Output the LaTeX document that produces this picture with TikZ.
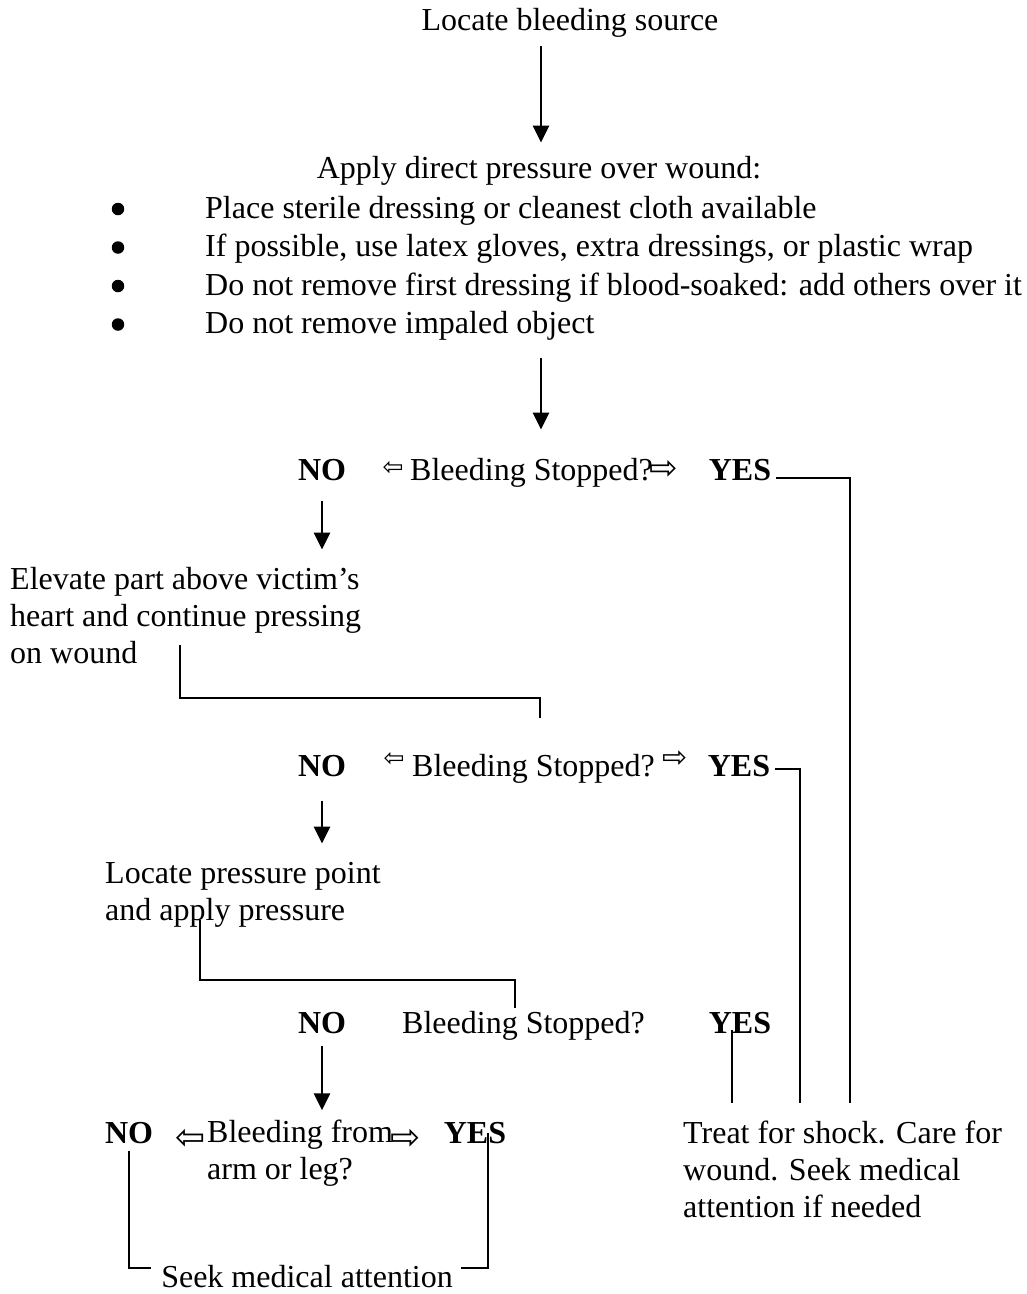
\documentclass[tikz,border=0pt]{standalone}
\usepackage{fontspec}
\setmainfont{Liberation Serif}
\newfontfamily\arrowfont{DejaVu Sans}
\usetikzlibrary{arrows.meta,calc}
\tikzset{every node/.style={font=\fontsize{32}{37}\selectfont,inner sep=0pt},line cap=round,line join=round}

\begin{document}
\begin{tikzpicture}[x=1pt,y=-1pt,
  txt/.style={anchor=base west,align=left},
  ans/.style={font=\bfseries\fontsize{32}{37}\selectfont,anchor=base},
  hollow/.style={font=\arrowfont\fontsize{#1}{#1}\selectfont},
  hollow/.default=28,
  flow/.style={line width=2.6pt,-{Triangle[length=17pt,width=16pt]}},
  link/.style={line width=1.8pt}]
  \path[use as bounding box] (0,0) rectangle (1027,1294);
  % first steps
  \node[anchor=base] (locate) at (570,30) {Locate bleeding source};
  \node[anchor=base] (apply) at (539,178) {Apply direct pressure over wound:};
  \foreach \t [count=\i] in {{Place sterile dressing or cleanest cloth available},
      {If possible, use latex gloves, extra dressings, or plastic wrap},
      {Do not remove first dressing if blood-soaked: add others over it},
      {Do not remove impaled object}}{
    \node[txt] (l\i) at (205,{218+(\i-1)*38.5}) {\t};
    \node[circle,fill,minimum size=12.5pt] (b\i) at (118,{209+(\i-1)*38.5}) {};
  }
  \draw[flow,shorten <=9pt,shorten >=13pt] (locate.south -| 541,0) -- (apply.north -| 541,0);
  % first check
  \node[ans] (no1) at (322,480) {NO};
  \node[hollow=25] (lt1) at (393,468) {⇦};
  \node[txt] (q1) at (410,480) {Bleeding Stopped?};
  \node[hollow=34] (rt1) at (664,470) {⇨};
  \node[ans] (yes1) at (740,480) {YES};
  \draw[flow,shorten <=17pt,shorten >=28pt] (l4.south -| 541,0) -- (q1.north -| 541,0);
  \node[txt] (elevate) at (10,663) {Elevate part above victim’s\\heart and continue pressing\\on wound};
  \draw[flow,shorten <=20pt,shorten >=17pt] (no1.south) -- (no1.south |- elevate.north);
  % second check
  \node[ans] (no2) at (322,776) {NO};
  \node[hollow=25] (lt2) at (394,759) {⇦};
  \node[txt] (q2) at (412,776) {Bleeding Stopped?};
  \node[hollow=30] (rt2) at (675,759) {⇨};
  \node[ans] (yes2) at (739,776) {YES};
  \coordinate (e1) at (180,645);
  \draw[link] (e1) |- ++(360,53) -- ++(0,20);
  \node[txt] (pressure) at (105,920) {Locate pressure point\\and apply pressure};
  \draw[flow,shorten <=24pt,shorten >=18pt] (no2.south) -- (no2.south |- pressure.north);
  % third check
  \node[ans] (no3) at (322,1033) {NO};
  \node[txt] (q3) at (402,1033) {Bleeding Stopped?};
  \node[ans] (yes3) at (740,1033) {YES};
  \coordinate (p1) at (200,920);
  \draw[link] (p1) |- ++(315,60) -- ++(0,28);
  % limb check
  \node[ans] (no4) at (129,1143) {NO};
  \node[hollow=36] (lt4) at (191,1139) {⇦};
  \node[txt] (q4) at (207,1179) {Bleeding from\\arm or leg?};
  \node[hollow=36] (rt4) at (406,1139) {⇨};
  \node[ans] (yes4) at (475,1143) {YES};
  \draw[flow,shorten <=12pt,shorten >=9pt] (no3.south) -- (no3.south |- q4.north);
  \node[anchor=base] (seek) at (307,1287) {Seek medical attention};
  \draw[link] ($(no4.south)+(0,7)$) |- ($(seek.west)+(-10,-8)$);
  \draw[link] ($(yes4.base)+(13,-10)$) |- ($(seek.east)+(8,-8)$);
  % treatment
  \node[txt] (treat) at (683,1217) {Treat for shock. Care for\\wound. Seek medical\\attention if needed};
  \coordinate (j1) at (850,1103);
  \coordinate (j2) at (800,1103);
  \coordinate (j3) at (732,1103);
  \draw[link] ($(yes1.base east)+(5,-2)$) -| (j1);
  \draw[link] ($(yes2.base east)+(5,-7)$) -| (j2);
  \draw[link] ($(j3 |- yes3.base)+(0,-3)$) -- (j3);
\end{tikzpicture}
\end{document}
